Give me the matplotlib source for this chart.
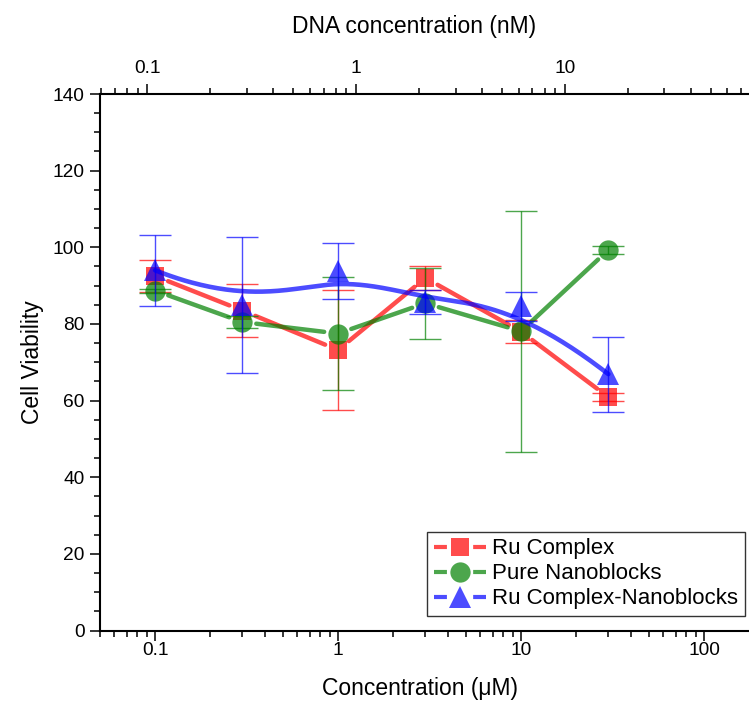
import numpy as np
import matplotlib
matplotlib.use('Agg')
import matplotlib.pyplot as plt
from matplotlib.lines import Line2D
from matplotlib.ticker import MultipleLocator, LogLocator, FuncFormatter, NullFormatter

plt.rcParams['font.family'] = ['Liberation Sans', 'DejaVu Sans']

# data
conc = [0.1, 0.3, 1, 3, 10, 30]          # uM
ru = [92.5, 83.5, 73.2, 92.0, 78.0, 60.9]
ru_err = [4.1, 6.9, 15.6, 3.2, 3.0, 1.0]
pure = [88.7, 80.5, 77.5, 85.4, 78.1, 99.3]
pure_err = [0.5, 1.5, 14.7, 9.2, 31.4, 1.1]
rucn = [94.0, 85.0, 93.8, 85.7, 84.6, 66.9]
rucn_err = [9.3, 17.7, 7.4, 3.2, 3.8, 9.8]
labels = ['Ru Complex', 'Pure Nanoblocks', 'Ru Complex-Nanoblocks']

RED = (1, 0, 0, 0.7)
GREEN = (0, 0.5, 0, 0.7)
BLUE = (0, 0, 1, 0.7)

fig = plt.figure(figsize=(7.49, 7.09), dpi=100)
ax = fig.add_axes([0.1335, 0.1107, 0.880, 0.7567])
ax.set_xscale('log')
ax.set_xlim(0.05, 200)
ax.set_ylim(0, 140)


def gapped(ax, x, y, gap, **kw):
    # line segments that stop short of each symbol (Origin style)
    pts = ax.transData.transform(np.column_stack([x, y]))
    inv = ax.transData.inverted()
    for a, b in zip(pts[:-1], pts[1:]):
        d = b - a
        u = d / np.hypot(*d)
        seg = inv.transform(np.array([a + u * gap, b - u * gap]))
        ax.plot(seg[:, 0], seg[:, 1], **kw)


def bspline(cx, cy, n=300, k=3):
    m = len(cx)
    knots = np.concatenate([[0] * k, np.linspace(0, 1, m - k + 1), [1] * k])
    t = np.linspace(0, 1, n)
    t[-1] -= 1e-10

    def N(i, p):
        if p == 0:
            return ((knots[i] <= t) & (t < knots[i + 1])).astype(float)
        out = np.zeros_like(t)
        if knots[i + p] != knots[i]:
            out += (t - knots[i]) / (knots[i + p] - knots[i]) * N(i, p - 1)
        if knots[i + p + 1] != knots[i + 1]:
            out += (knots[i + p + 1] - t) / (knots[i + p + 1] - knots[i + 1]) * N(i + 1, p - 1)
        return out

    B = np.array([N(i, k) for i in range(m)])
    return B.T @ np.asarray(cx), B.T @ np.asarray(cy)


# Ru complex
gapped(ax, conc, ru, 14, color=RED, lw=3.2, solid_capstyle='round')
ax.plot(conc, ru, 's', ms=12.5, color=RED, mew=0)
ax.errorbar(conc, ru, yerr=ru_err, fmt='none', ecolor=RED, elinewidth=1,
            capsize=11.5, capthick=1)

# pure nanoblocks
gapped(ax, conc, pure, 14, color=GREEN, lw=3.2, solid_capstyle='round')
ax.plot(conc, pure, 'o', ms=14.6, color=GREEN, mew=0)
ax.errorbar(conc, pure, yerr=pure_err, fmt='none', ecolor=GREEN, elinewidth=1,
            capsize=11.5, capthick=1)

# Ru complex-nanoblocks, B-spline
sx, sy = bspline(np.log10(conc), rucn)
ax.plot(10 ** sx, sy, color=BLUE, lw=3.3, solid_capstyle='round')
ax.plot(conc, rucn, '^', ms=15.5, color=BLUE, mew=0)
ax.errorbar(conc, rucn, yerr=rucn_err, fmt='none', ecolor=BLUE, elinewidth=1,
            capsize=11.5, capthick=1)

fmt = FuncFormatter(lambda v, p: '%g' % v)
ax.xaxis.set_major_locator(LogLocator(base=10, numticks=20))
ax.xaxis.set_minor_locator(LogLocator(base=10, subs=np.arange(2, 10), numticks=20))
ax.xaxis.set_major_formatter(fmt)
ax.xaxis.set_minor_formatter(NullFormatter())
ax.yaxis.set_major_locator(MultipleLocator(20))
ax.yaxis.set_minor_locator(MultipleLocator(5))
ax.tick_params(which='both', direction='out', width=1.1, labelsize=13.8)
ax.tick_params(which='major', length=7.2)
ax.tick_params(which='minor', length=4.3)
ax.tick_params(axis='x', pad=1)
ax.tick_params(axis='y', pad=4)
for s in ['left', 'bottom']:
    ax.spines[s].set_linewidth(1.5)
ax.spines['top'].set_visible(False)
ax.spines['right'].set_visible(False)

ax.set_xlabel('Concentration (μM)', fontsize=16.5)
ax.xaxis.set_label_coords(0.486, -0.086)
ax.xaxis.label.set_va('top')
ax.set_ylabel('Cell Viability', fontsize=16.5)
ax.yaxis.set_label_coords(-0.085, 0.5)

# top axis: DNA concentration
ax2 = ax.twiny()
ax2.set_xscale('log')
ax2.set_xlim(0.0594, 85.2)
ax2.xaxis.set_major_locator(LogLocator(base=10, numticks=20))
ax2.xaxis.set_minor_locator(LogLocator(base=10, subs=np.arange(2, 10), numticks=20))
ax2.xaxis.set_major_formatter(fmt)
ax2.xaxis.set_minor_formatter(NullFormatter())
ax2.tick_params(which='both', direction='out', width=1.1, labelsize=13.8, pad=5)
ax2.tick_params(which='major', length=7.2)
ax2.tick_params(which='minor', length=4.3)
ax2.spines['top'].set_linewidth(1.5)
for s in ['bottom', 'left', 'right']:
    ax2.spines[s].set_visible(False)
ax2.set_xlabel('DNA concentration (nM)', fontsize=16.5)
ax2.xaxis.set_label_coords(0.476, 1.113)

handles = []
for c, m, ms in [(RED, 's', 12.5), (GREEN, 'o', 14.6), (BLUE, '^', 15.5)]:
    ln = Line2D([], [], color=c, lw=3, dashes=(3.1, 6.3))
    mk = Line2D([], [], color=c, marker=m, ms=ms, mew=0, ls='none')
    handles.append((ln, mk))
leg = ax.legend(handles, labels, loc='lower right', bbox_to_anchor=(0.9785, 0.027),
                fontsize=16, handlelength=2.34, handletextpad=0.3, labelspacing=0.18,
                borderpad=0.3, fancybox=False, framealpha=1, borderaxespad=0)
leg.get_frame().set_edgecolor('#333333')
leg.get_frame().set_linewidth(1)

fig.savefig('out.png', dpi=100)
